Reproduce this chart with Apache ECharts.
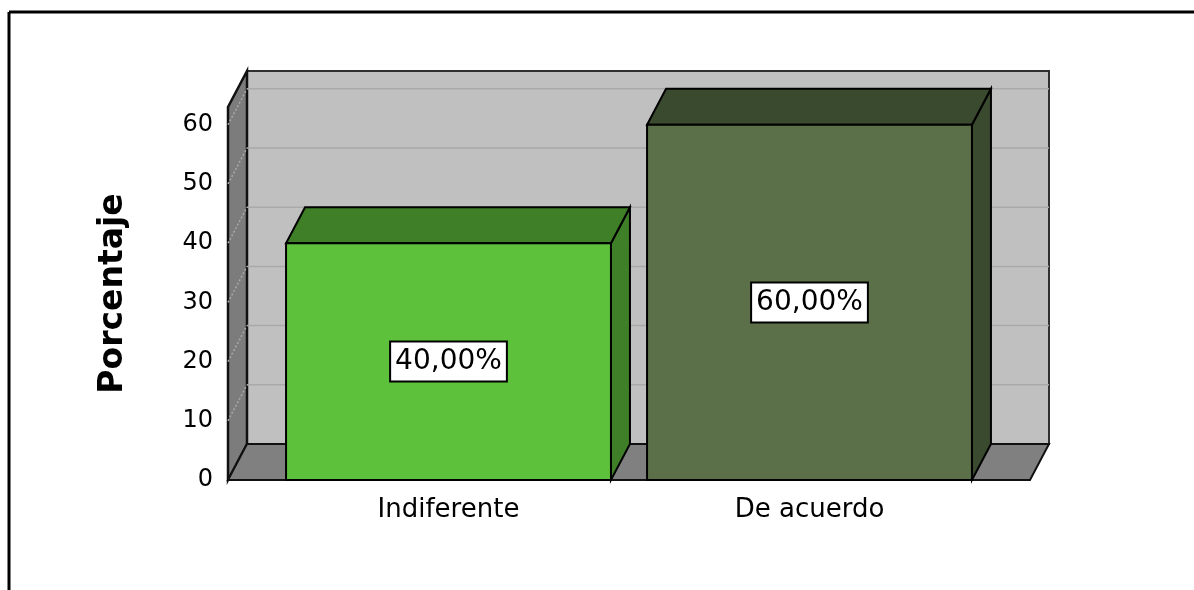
<!DOCTYPE html>
<html>
<head>
<meta charset="utf-8">
<script src="https://cdn.jsdelivr.net/npm/echarts@6/dist/echarts.min.js"></script>
<style>
  html, body { margin: 0; padding: 0; background: #fff; }
  #chart { width: 1194px; height: 590px; }
</style>
</head>
<body>
<div id="chart"></div>
<script>
// data
const categories = ['Indiferente', 'De acuerdo'];
const percentages = [40, 60];
const percentLabels = ['40,00%', '60,00%'];
const yTicks = [0, 10, 20, 30, 40, 50, 60];

// look
const frontColors = ['#5dc13b', '#5b7049'];
const shadeColors = ['#3e7f28', '#3a4a2f'];
const DX = 19, DY = -36, PAD = 40;
const FONT = '"DejaVu Sans", sans-serif';

const chart = echarts.init(document.getElementById('chart'));

// walls + floor of the 3d box
const renderBox = (params, api) => {
  const cs = params.coordSys;
  const left = cs.x - PAD;
  const right = cs.x + cs.width + PAD;
  const top = cs.y;
  const bottom = api.coord([0, 0])[1];
  const children = [];
  // back wall
  children.push({
    type: 'rect',
    shape: { x: left + DX, y: top + DY, width: right - left, height: bottom - top },
    style: { fill: '#c0c0c0', stroke: '#303030', lineWidth: 2 }
  });
  // left wall
  children.push({
    type: 'polygon',
    shape: { points: [[left, bottom], [left, top], [left + DX, top + DY], [left + DX, bottom + DY]] },
    style: { fill: '#7c7c7c', stroke: '#111', lineWidth: 2.5 }
  });
  // grid lines
  yTicks.forEach(v => {
    if (v === 0) return;
    const y = api.coord([0, v])[1];
    children.push({
      type: 'line',
      shape: { x1: left + DX, y1: y + DY, x2: right + DX, y2: y + DY },
      style: { stroke: '#a9a9a9', lineWidth: 1.5 }
    });
    children.push({
      type: 'line',
      shape: { x1: left, y1: y, x2: left + DX, y2: y + DY },
      style: { stroke: '#a9a9a9', lineWidth: 1.5, lineDash: [2, 2] }
    });
  });
  // floor
  children.push({
    type: 'polygon',
    shape: { points: [[left, bottom], [right, bottom], [right + DX, bottom + DY], [left + DX, bottom + DY]] },
    style: { fill: '#808080', stroke: '#111', lineWidth: 2 }
  });
  return { type: 'group', children: children };
};

const renderBar = (params, api) => {
  const i = api.value(0);
  const top = api.coord([i, api.value(1)]);
  const base = api.coord([i, 0]);
  const w = api.size([1, 0])[0] * 0.9;
  const x = top[0] - w / 2;
  const yT = top[1], yB = base[1];
  return {
    type: 'group',
    children: [
      {
        type: 'polygon',
        shape: { points: [[x + w, yT], [x + w + DX, yT + DY], [x + w + DX, yB + DY], [x + w, yB]] },
        style: { fill: shadeColors[i], stroke: '#000', lineWidth: 2 }
      },
      {
        type: 'polygon',
        shape: { points: [[x, yT], [x + w, yT], [x + w + DX, yT + DY], [x + DX, yT + DY]] },
        style: { fill: shadeColors[i], stroke: '#000', lineWidth: 2 }
      },
      {
        type: 'rect',
        shape: { x: x, y: yT, width: w, height: yB - yT },
        style: { fill: frontColors[i], stroke: '#000', lineWidth: 2 },
        textContent: {
          style: {
            text: percentLabels[i],
            font: '28px ' + FONT,
            fill: '#000',
            backgroundColor: '#fff',
            borderColor: '#000',
            borderWidth: 2,
            padding: [6, 4, 4, 4]
          }
        },
        textConfig: { position: 'inside' }
      }
    ]
  };
};

const option = {
  animation: false,
  grid: { left: 268, right: 204, top: 107, bottom: 110 },
  graphic: [
    { type: 'line', shape: { x1: 9, y1: 12, x2: 1194, y2: 12 }, style: { stroke: '#000', lineWidth: 3 } },
    { type: 'line', shape: { x1: 9, y1: 12, x2: 9, y2: 590 }, style: { stroke: '#000', lineWidth: 3 } }
  ],
  xAxis: {
    type: 'category',
    data: categories,
    axisLine: { show: false },
    axisTick: { show: false },
    axisLabel: { color: '#000', fontFamily: FONT, fontSize: 26, margin: 17 }
  },
  yAxis: {
    type: 'value',
    min: 0,
    max: 63,
    interval: 10,
    offset: 39,
    name: 'Porcentaje',
    nameLocation: 'middle',
    nameRotate: 90,
    nameGap: 99,
    nameTextStyle: { color: '#000', fontFamily: FONT, fontSize: 33, fontWeight: 'bold' },
    axisLine: { show: false },
    axisTick: { show: false },
    splitLine: { show: false },
    axisLabel: { color: '#000', fontFamily: FONT, fontSize: 24, margin: 16, showMaxLabel: false }
  },
  series: [
    {
      type: 'custom',
      silent: true,
      clip: false,
      z: 1,
      renderItem: renderBox,
      data: [[0, 0]]
    },
    {
      type: 'custom',
      clip: false,
      z: 2,
      renderItem: renderBar,
      data: percentages.map((v, i) => [i, v])
    }
  ]
};

chart.setOption(option);
</script>
</body>
</html>
